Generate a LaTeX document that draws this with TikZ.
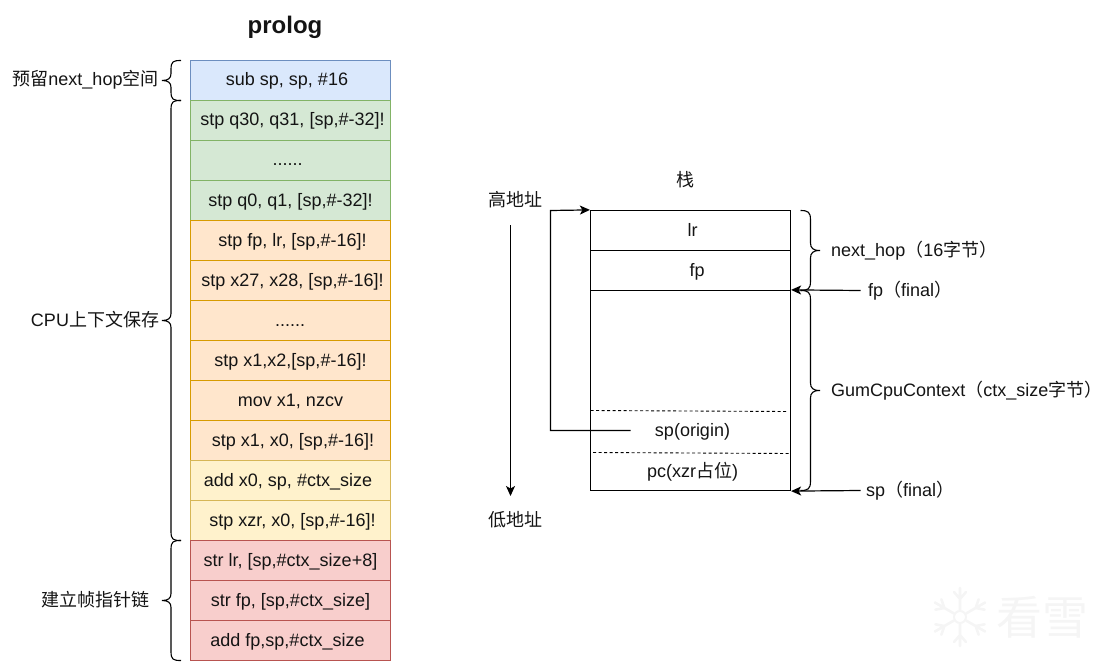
\documentclass[tikz,border=0pt]{standalone}
\usepackage{fontspec}
\setmainfont{Liberation Sans}
\newfontfamily\cjk{Noto Sans CJK SC}
\usetikzlibrary{arrows.meta}
\definecolor{bluef}{HTML}{DAE8FC}\definecolor{blued}{HTML}{6C8EBF}
\definecolor{greenf}{HTML}{D5E8D4}\definecolor{greend}{HTML}{82B366}
\definecolor{orangef}{HTML}{FFE6CC}\definecolor{oranged}{HTML}{D79B00}
\definecolor{yellowf}{HTML}{FFF2CC}\definecolor{yellowd}{HTML}{D6B656}
\definecolor{redf}{HTML}{F8CECC}\definecolor{redd}{HTML}{B85450}
\definecolor{wm}{HTML}{F5F5F5}
\tikzset{
  every node/.style={font=\fontsize{18}{22}\selectfont,text=black!92},
  cell/.style={rectangle,minimum width=200pt,minimum height=40pt,inner sep=0pt,line width=1.1pt},
  bluecell/.style={cell,draw=blued,fill=bluef},
  greencell/.style={cell,draw=greend,fill=greenf},
  orangecell/.style={cell,draw=oranged,fill=orangef},
  yellowcell/.style={cell,draw=yellowd,fill=yellowf},
  redcell/.style={cell,draw=redd,fill=redf},
  txt/.style={anchor=base,inner sep=0pt},
  ltxt/.style={anchor=base west,inner sep=0pt},
  stackcell/.style={rectangle,draw=black,line width=1.2pt,minimum width=200pt,inner sep=0pt},
  wire/.style={draw=black,line width=1.2pt},
  arrow/.style={wire,-{Stealth[length=10pt,width=9pt,inset=2.5pt]}},
  brace/.style={draw=black,line width=1.1pt},
  thin dash/.style={draw=black,line width=.9pt,dash pattern=on 3pt off 2.5pt},
}
\newcommand\rowcell[5]{%
  \node[#2] (#1) at (290.5,#3+.5) {};
  \node[txt] (#1t) at (#4,#3+6) {#5};
}
% brace opening right: tip x, spine x, end x, top y, mid y, bottom y
\newcommand\leftbrc[6]{%
  \draw[brace] (#3,#4) .. controls (#2+2,#4) and (#2,#4+1) .. (#2,#4+9) -- (#2,#5-7)
    .. controls (#2,#5-2) and (#2-3,#5) .. (#1,#5)
    .. controls (#2-3,#5) and (#2,#5+2) .. (#2,#5+7) -- (#2,#6-9)
    .. controls (#2,#6-1) and (#2+2,#6) .. (#3,#6);
}
\begin{document}
\begin{tikzpicture}[x=1pt,y=-1pt]
\useasboundingbox (0,0) rectangle (1110,671);
% watermark
\begin{scope}[draw=wm,line width=2.6pt,line cap=round]
  \foreach \a in {30,90,150,210,270,330}{
    \draw[shift={(960,617)},rotate=\a] (7,0) -- (29,0) (18,0) -- (25,6) (18,0) -- (25,-6);
  }
  \draw[line width=2pt] (960,617) circle (6);
\end{scope}
\node[inner sep=0pt,anchor=center,text=wm] (wmtext) at (1042,617) {\fontsize{46}{50}\selectfont\cjk 看雪};
% title
\node[txt] (title) at (285,33.5) {\fontsize{24}{28}\selectfont\bfseries prolog};
% left stack
\rowcell{a1}{bluecell}{80}{287}{sub sp, sp, \#16}
\rowcell{a2}{greencell}{120}{292.5}{stp q30, q31, [sp,\#-32]!}
\rowcell{a3}{greencell}{160}{287.5}{......}
\rowcell{a4}{greencell}{200}{290.5}{stp q0, q1, [sp,\#-32]!}
\rowcell{a5}{orangecell}{240}{292.5}{stp fp, lr, [sp,\#-16]!}
\rowcell{a6}{orangecell}{280}{292.5}{stp x27, x28, [sp,\#-16]!}
\rowcell{a7}{orangecell}{320}{290}{......}
\rowcell{a8}{orangecell}{360}{290.5}{stp x1,x2,[sp,\#-16]!}
\rowcell{a9}{orangecell}{400}{290.5}{mov x1, nzcv}
\rowcell{a10}{orangecell}{440}{293}{stp x1, x0, [sp,\#-16]!}
\rowcell{a11}{yellowcell}{480}{288}{add x0, sp, \#ctx\_size}
\rowcell{a12}{yellowcell}{520}{292.5}{stp xzr, x0, [sp,\#-16]!}
\rowcell{a13}{redcell}{560}{290.5}{str lr, [sp,\#ctx\_size+8]}
\rowcell{a14}{redcell}{600}{290.5}{str fp, [sp,\#ctx\_size]}
\rowcell{a15}{redcell}{640}{287.5}{add fp,sp,\#ctx\_size}
% left braces
\leftbrc{162}{171}{181}{60.5}{80.5}{100.5}
\leftbrc{162}{171}{181}{100.5}{320.5}{540.5}
\leftbrc{162}{171}{181}{540.5}{600.5}{660.5}
% left labels
\node[txt] (l1) at (85.5,86) {{\cjk 预留}next\_hop{\cjk 空间}};
\node[txt] (l2) at (95,326) {CPU{\cjk 上下文保存}};
\node[txt] (l3) at (95,606) {\cjk 建立帧指针链};
% stack diagram
\node[txt] (stacktitle) at (685,186) {\cjk 栈};
\node[txt] (hi) at (515,206) {\cjk 高地址};
\node[txt] (lo) at (515,526) {\cjk 低地址};
\coordinate (dirtop) at (510.5,225);
\coordinate (dirbot) at (510.5,496);
\draw[arrow] (dirtop) -- (dirbot);
\node[stackcell,minimum height=40pt] (slr) at (690.5,230.5) {};
\node[stackcell,minimum height=40pt] (sfp) at (690.5,270.5) {};
\node[stackcell,minimum height=200pt] (sctx) at (690.5,390.5) {};
\node[txt] (slrt) at (692.5,236) {lr};
\node[txt] (sfpt) at (697,276) {fp};
\node[txt] (sorig) at (692.5,436) {sp(origin)};
\node[txt] (spc) at (692.5,477) {pc(xzr{\cjk 占位})};
\coordinate (d1a) at (590.5,410.5);
\coordinate (d1b) at (787,411.5);
\coordinate (d2a) at (593,452.5);
\coordinate (d2b) at (790,453.5);
\draw[thin dash] (d1a) -- (d1b);
\draw[thin dash] (d2a) -- (d2b);
\coordinate (origstart) at (630.5,430.5);
\coordinate (origa) at (550.5,430.5);
\coordinate (origb) at (550.5,210.5);
\draw[arrow] (origstart) -- (origa) -- (origb) -- (slr.north west);
% right braces
\draw[brace] (800.5,210.5) .. controls (808,210.5) and (810.5,212) .. (810.5,220) -- (810.5,243)
  .. controls (810.5,248) and (813,250.5) .. (820,250.5)
  .. controls (813,250.5) and (810.5,253) .. (810.5,258) -- (810.5,281)
  .. controls (810.5,289) and (808,290.5) .. (800.5,290.5);
\draw[brace] (800.5,290.5) .. controls (808,290.5) and (810.5,292) .. (810.5,300) -- (810.5,383)
  .. controls (810.5,388) and (813,390.5) .. (820,390.5)
  .. controls (813,390.5) and (810.5,393) .. (810.5,398) -- (810.5,481)
  .. controls (810.5,489) and (808,490.5) .. (800.5,490.5);
% right labels
\node[ltxt] (nh) at (831,256) {next\_hop{\cjk （}16{\cjk 字节）}};
\node[ltxt] (gc) at (831,396) {GumCpuContext{\cjk （}ctx\_size{\cjk 字节）}};
\node[ltxt] (ff) at (868,296) {fp{\cjk （}final{\cjk ）}};
\node[ltxt] (sf) at (866,496) {sp{\cjk （}final{\cjk ）}};
\coordinate (ffs) at (860.5,290.5);
\coordinate (sfs) at (860.5,490.5);
\draw[arrow] (ffs) -- (sctx.north east);
\draw[arrow] (sfs) -- (sctx.south east);
\end{tikzpicture}
\end{document}
